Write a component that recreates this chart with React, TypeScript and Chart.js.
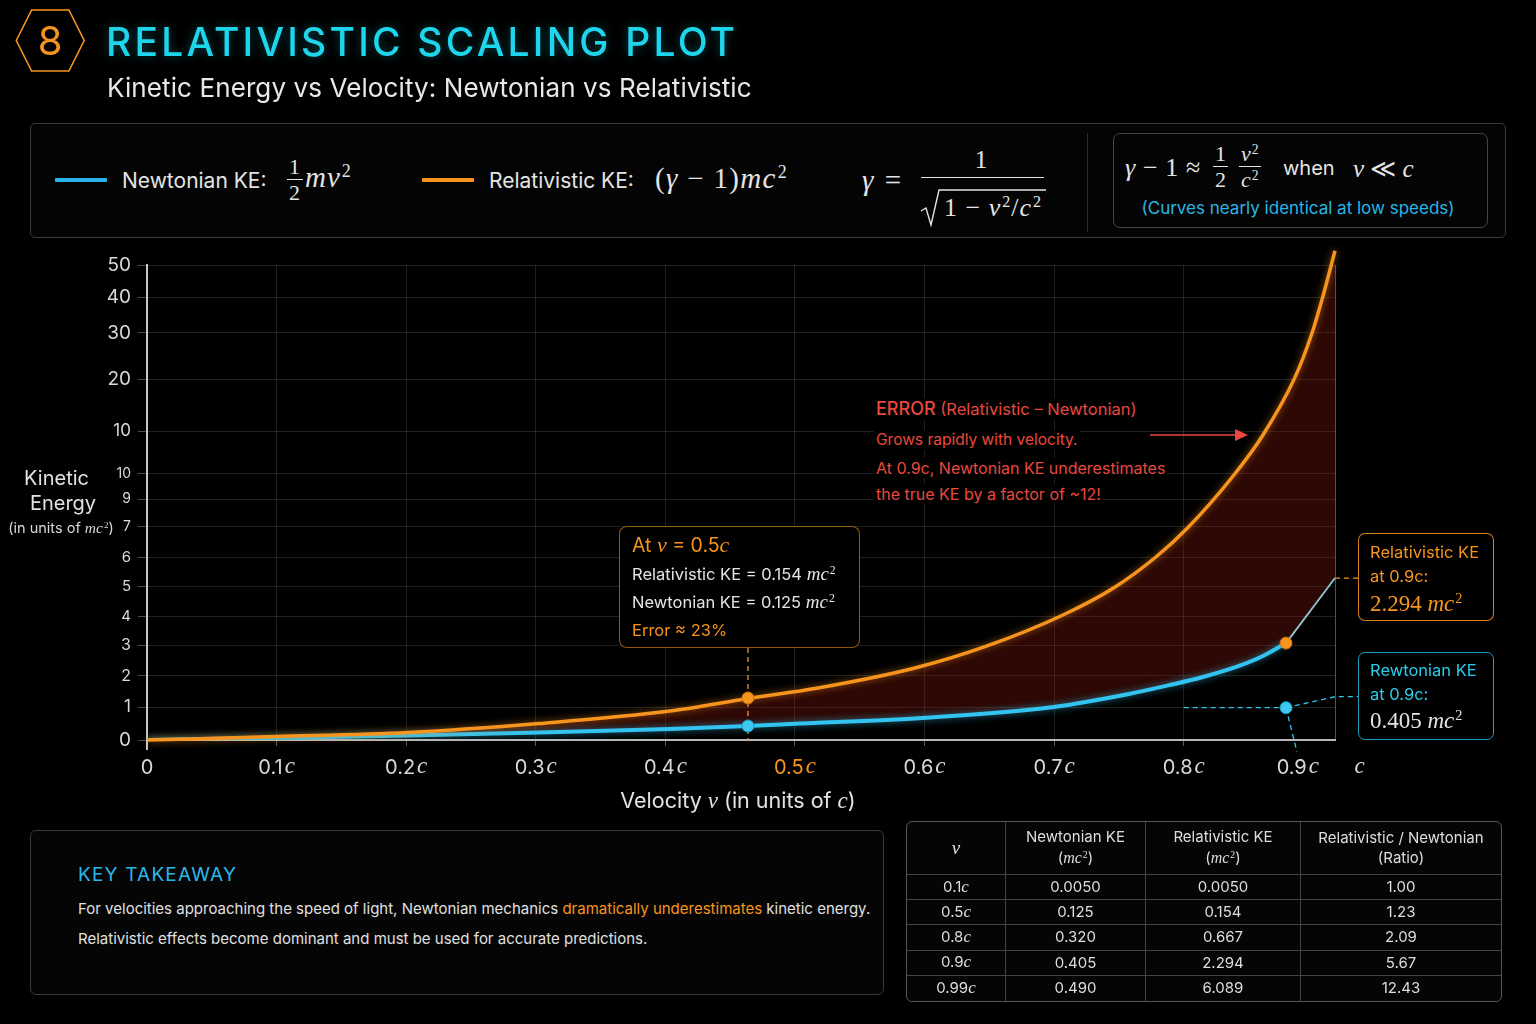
import React, { useEffect, useRef } from 'react';
import { Chart, registerables } from 'chart.js';

Chart.register(...registerables);

// ---------- data ----------
const X_MAX = 0.9167;
const X_TICK_VALUES = [0, 0.1, 0.2, 0.3, 0.4, 0.5, 0.6, 0.7, 0.8, 0.888, 0.9167, 0.9356];
const X_TICK_LABELS = ['0', '0.1c', '0.2c', '0.3c', '0.4c', '0.5c', '0.6c', '0.7c', '0.8c', '0.9c', '', 'c'];
const X_HIGHLIGHT_LABEL = '0.5c';

const Y_MAX = 100;
const Y_TICK_VALUES = [0, 6.9, 13.5, 20.0, 26.1, 32.3, 38.5, 44.9, 50.7, 56.1, 65.05, 75.9, 85.7, 93.2, 100];
const Y_TICK_LABELS = ['0', '1', '2', '3', '4', '5', '6', '7', '9', '10', '10', '20', '30', '40', '50'];

const REL_V = [0, 0.1003, 0.2014, 0.3025, 0.4035, 0.4637, 0.5177, 0.5926, 0.6466, 0.7068, 0.7458, 0.7785, 0.8029, 0.8387, 0.8611, 0.8858, 0.8989, 0.9082, 0.9167];
const REL_KE = [0, 0.72, 1.58, 3.47, 6.1, 8.75, 10.95, 15.16, 19.64, 26.32, 32.0, 38.53, 44.63, 55.79, 64.21, 76.34, 85.64, 94.23, 103.0];

const NEWT_V = [0, 0.1003, 0.2014, 0.3025, 0.4035, 0.4637, 0.5039, 0.6011, 0.6998, 0.7577, 0.7894, 0.8148, 0.841, 0.8611, 0.8789];
const NEWT_KE = [0, 0.42, 0.95, 1.58, 2.32, 2.95, 3.47, 4.69, 6.95, 9.68, 11.58, 13.26, 15.43, 17.68, 20.4];

const TAIL_V = [0.8789, 0.9167];
const TAIL_KE = [20.4, 34.1];

const MARK_V = [0.4637, 0.8789];
const MARK_REL = [8.85, 20.4];
const MARK_NEWT = [2.95, 6.8];

const TABLE_V = ['0.1', '0.5', '0.8', '0.9', '0.99'];
const TABLE_NEWT = ['0.0050', '0.125', '0.320', '0.405', '0.490'];
const TABLE_REL = ['0.0050', '0.154', '0.667', '2.294', '6.089'];
const TABLE_RATIO = ['1.00', '1.23', '2.09', '5.67', '12.43'];

// ---------- style ----------
const SANS = "Inter, 'Noto Sans', 'DejaVu Sans', sans-serif";
const SERIF = "'Liberation Serif', 'DejaVu Serif', serif";
const ORANGE = '#F7941D';
const BLUE = '#33C3F0';
const CYAN = '#1ED6EC';
const RED = '#E8483E';
const TEXT = '#E4E4E4';
const Y_FONT_SIZES = [19, 17, 16, 16, 15, 15, 15, 14, 14, 14, 17, 19, 19, 19, 19];

const pts = (xs: number[], ys: number[]) => xs.map((x, i) => ({ x, y: ys[i] }));

function T({ x, y, children, style, center }: any) {
  return (
    <div
      style={{
        position: 'absolute',
        left: x,
        top: y,
        transform: center ? 'translate(-50%,-50%)' : 'translateY(-50%)',
        whiteSpace: 'nowrap',
        lineHeight: 1,
        ...style,
      }}
    >
      {children}
    </div>
  );
}
const I = ({ children, size }: any) => (
  <span style={{ fontFamily: SERIF, fontStyle: 'italic', fontSize: size }}>{children}</span>
);
const Sup = ({ children }: any) => (
  <span style={{ fontFamily: SERIF, fontStyle: 'normal', fontSize: '0.62em', position: 'relative', top: '-0.55em', marginLeft: 1 }}>
    {children}
  </span>
);
function Frac({ n, d, size }: any) {
  return (
    <span
      style={{
        display: 'inline-flex',
        flexDirection: 'column',
        alignItems: 'center',
        verticalAlign: 'middle',
        fontSize: size,
        lineHeight: 1,
        margin: '0 2px',
        fontFamily: SERIF,
      }}
    >
      <span style={{ padding: '0 2px 1px' }}>{n}</span>
      <span style={{ alignSelf: 'stretch', height: 0, borderTop: '1.2px solid currentColor' }} />
      <span style={{ padding: '2px 2px 0' }}>{d}</span>
    </span>
  );
}
const Mc2 = ({ size }: any) => (
  <span style={{ fontFamily: SERIF, fontSize: size }}>
    <i>mc</i>
    <Sup>2</Sup>
  </span>
);

function ChartCanvas() {
  const ref = useRef<HTMLCanvasElement | null>(null);
  useEffect(() => {
    const canvas = ref.current!;
    const overlay = {
      id: 'overlay',
      beforeDatasetDraw(chart: any, args: any) {
        const ds = chart.data.datasets[args.index];
        if (ds.glow) {
          chart.ctx.save();
          chart.ctx.shadowColor = ds.glow;
          chart.ctx.shadowBlur = 7;
        }
      },
      afterDatasetDraw(chart: any, args: any) {
        const ds = chart.data.datasets[args.index];
        if (ds.glow) chart.ctx.restore();
      },
      beforeDatasetsDraw(chart: any) {
        const ctx = chart.ctx;
        const xs = chart.scales.x;
        const ys = chart.scales.y;
        const px = (v: number) => xs.getPixelForValue(v);
        const py = (v: number) => ys.getPixelForValue(v);
        const line = (p: number[][]) => {
          ctx.beginPath();
          ctx.moveTo(p[0][0], p[0][1]);
          for (let i = 1; i < p.length; i++) ctx.lineTo(p[i][0], p[i][1]);
          ctx.stroke();
        };
        ctx.save();
        ctx.setLineDash([5, 4]);
        ctx.lineWidth = 1.3;
        ctx.strokeStyle = ORANGE;
        line([[px(MARK_V[0]), 648], [px(MARK_V[0]), ys.bottom]]);
        line([[px(TAIL_V[1]), py(TAIL_KE[1])], [1358, py(TAIL_KE[1])]]);
        ctx.strokeStyle = BLUE;
        const bx = px(MARK_V[1]);
        const by = py(MARK_NEWT[1]);
        line([[px(X_TICK_VALUES[8]), by], [bx, by]]);
        line([[bx, by], [xs.right, by - 11], [1358, by - 11]]);
        line([[bx, by], [bx + 11, ys.bottom + 12]]);
        ctx.restore();
      },
      afterDraw(chart: any) {
        const ctx = chart.ctx;
        const xs = chart.scales.x;
        const ys = chart.scales.y;
        ctx.save();
        ctx.strokeStyle = '#c8c8c8';
        ctx.lineWidth = 2;
        ctx.beginPath();
        ctx.moveTo(xs.left, ys.bottom);
        ctx.lineTo(xs.left, ys.bottom + 10);
        ctx.stroke();
        ctx.textBaseline = 'middle';
        X_TICK_LABELS.forEach((lab, i) => {
          if (!lab) return;
          const x = xs.getPixelForValue(X_TICK_VALUES[i]);
          const hasC = lab.endsWith('c');
          const num = hasC ? lab.slice(0, -1) : lab;
          ctx.font = `20px ${SANS}`;
          const w1 = num ? ctx.measureText(num).width : 0;
          ctx.font = `italic 23px ${SERIF}`;
          const w2 = hasC ? ctx.measureText('c').width + (num ? 2 : 0) : 0;
          const start = x - (w1 + w2) / 2;
          ctx.fillStyle = lab === X_HIGHLIGHT_LABEL ? ORANGE : '#d8d8d8';
          ctx.textAlign = 'left';
          if (num) {
            ctx.font = `20px ${SANS}`;
            ctx.fillText(num, start, 768);
          }
          if (hasC) {
            ctx.font = `italic 23px ${SERIF}`;
            ctx.fillText('c', start + w1 + (num ? 2 : 0), 767);
          }
        });
        ctx.strokeStyle = RED;
        ctx.fillStyle = RED;
        ctx.lineWidth = 1.5;
        ctx.beginPath();
        ctx.moveTo(1150, 435);
        ctx.lineTo(1238, 435);
        ctx.stroke();
        ctx.beginPath();
        ctx.moveTo(1248, 435);
        ctx.lineTo(1235, 429);
        ctx.lineTo(1235, 441);
        ctx.closePath();
        ctx.fill();
        ctx.restore();
      },
    };

    const chart = new Chart(canvas, {
      type: 'line',
      data: {
        datasets: [
          {
            label: 'Relativistic KE',
            data: pts(REL_V, REL_KE),
            borderColor: ORANGE,
            borderWidth: 3.5,
            pointRadius: 0,
            cubicInterpolationMode: 'monotone',
            fill: 2,
            backgroundColor: 'rgba(150,26,12,0.30)',
            clip: { left: 10, top: 20, right: 10, bottom: 10 },
            order: 1,
            glow: 'rgba(247,148,29,0.6)',
          } as any,
          {
            label: 'Newtonian KE',
            data: pts(NEWT_V, NEWT_KE),
            borderColor: BLUE,
            borderWidth: 4,
            pointRadius: 0,
            cubicInterpolationMode: 'monotone',
            fill: false,
            order: 2,
            glow: 'rgba(51,195,240,0.6)',
          } as any,
          {
            label: 'fill boundary',
            data: [...pts(NEWT_V, NEWT_KE), { x: TAIL_V[1], y: TAIL_KE[1] }],
            borderColor: 'transparent',
            borderWidth: 0,
            pointRadius: 0,
            cubicInterpolationMode: 'monotone',
            fill: false,
            order: 5,
          },
          {
            label: 'tail',
            data: pts(TAIL_V, TAIL_KE),
            borderColor: '#8fc3d3',
            borderWidth: 1.8,
            pointRadius: 0,
            fill: false,
            order: 3,
          },
          {
            label: 'rel markers',
            data: pts(MARK_V, MARK_REL),
            showLine: false,
            pointRadius: 6,
            pointBackgroundColor: ORANGE,
            pointBorderColor: '#c8700f',
            pointBorderWidth: 1,
            order: 0,
          },
          {
            label: 'newt markers',
            data: pts(MARK_V, MARK_NEWT),
            showLine: false,
            pointRadius: 6,
            pointBackgroundColor: '#3cc8f2',
            pointBorderColor: '#1d9cc4',
            pointBorderWidth: 1,
            order: 0,
          },
        ],
      },
      options: {
        responsive: false,
        animation: false,
        devicePixelRatio: 1,
        events: [],
        layout: { padding: { left: 0, top: 265, right: 201, bottom: 264 } },
        plugins: {
          legend: { display: false },
          tooltip: { enabled: false },
          filler: { drawTime: 'beforeDatasetsDraw' },
        } as any,
        scales: {
          x: {
            type: 'linear',
            min: 0,
            max: X_MAX,
            afterBuildTicks: (s: any) => {
              s.ticks = X_TICK_VALUES.map((v) => ({ value: v }));
            },
            afterFit: (s: any) => {
              s.height = 20;
            },
            ticks: { display: false, autoSkip: false },
            grid: {
              color: (c: any) => {
                const v = c.tick ? c.tick.value : 0;
                if (v === X_MAX) return 'rgba(255,255,255,0.32)';
                return v <= 0.8001 ? 'rgba(255,255,255,0.12)' : 'rgba(0,0,0,0)';
              },
              tickColor: (c: any) => {
                const v = c.tick ? c.tick.value : 0;
                return v <= 0.8001 ? 'rgba(255,255,255,0.35)' : 'rgba(0,0,0,0)';
              },
              tickLength: 6,
            },
            border: { color: '#b8b8b8', width: 2 },
          },
          y: {
            type: 'linear',
            min: 0,
            max: Y_MAX,
            afterBuildTicks: (s: any) => {
              s.ticks = Y_TICK_VALUES.map((v) => ({ value: v }));
            },
            afterFit: (s: any) => {
              s.width = 147;
            },
            ticks: {
              autoSkip: false,
              padding: 7,
              color: '#d9d9d9',
              callback: (_v: any, i: number) => Y_TICK_LABELS[i],
              font: (c: any) => ({ family: SANS, size: Y_FONT_SIZES[c.index] || 16 }),
            },
            grid: { color: 'rgba(255,255,255,0.12)', tickLength: 9, tickColor: 'rgba(255,255,255,0.3)' },
            border: { color: '#c8c8c8', width: 2 },
          },
        },
      },
      plugins: [overlay],
    } as any);
    return () => chart.destroy();
  }, []);
  return (
    <canvas
      ref={ref}
      width={1536}
      height={1024}
      style={{ position: 'absolute', left: 0, top: 0, width: 1536, height: 1024 }}
    />
  );
}

const box = (x: number, y: number, w: number, h: number, border: string, radius: number, extra: any = {}) => ({
  position: 'absolute' as const,
  left: x,
  top: y,
  width: w,
  height: h,
  border,
  borderRadius: radius,
  boxSizing: 'border-box' as const,
  ...extra,
});

export default function App() {
  useEffect(() => {
    document.body.style.margin = '0';
    document.body.style.background = '#000';
  }, []);
  const cell = (last: boolean, lastRow: boolean) => ({
    display: 'flex',
    flexDirection: 'column' as const,
    alignItems: 'center',
    justifyContent: 'center',
    borderRight: last ? 'none' : '1px solid #444',
    borderBottom: lastRow ? 'none' : '1px solid #444',
    fontSize: 15,
    color: '#dedede',
    lineHeight: 1.35,
  });
  const redLine = { color: RED, fontSize: 15.5, background: '#000', padding: '2px 2px' };
  return (
    <div
      style={{
        position: 'fixed',
        left: 0,
        top: 0,
        width: 1536,
        height: 1024,
        background: '#000',
        overflow: 'hidden',
        fontFamily: SANS,
        color: TEXT,
      }}
    >
      <ChartCanvas />

      {/* header */}
      <svg style={{ position: 'absolute', left: 0, top: 0 }} width={100} height={82}>
        <polygon points="16.3,40.5 31.6,10 68.9,10 84.2,40.5 68.9,71 31.6,71" fill="none" stroke={ORANGE} strokeWidth={1.6} />
      </svg>
      <T x={50} y={41} center style={{ color: ORANGE, fontSize: 40 }}>8</T>
      <T
        x={106}
        y={41}
        style={{ color: CYAN, fontSize: 39, fontWeight: 500, letterSpacing: 3.2, textShadow: '0 0 10px rgba(30,214,236,0.35)' }}
      >
        RELATIVISTIC SCALING PLOT
      </T>
      <T x={107} y={88} style={{ fontSize: 26, fontWeight: 400, color: '#e8e8e8', letterSpacing: 0.1 }}>
        Kinetic Energy vs Velocity: Newtonian vs Relativistic
      </T>

      {/* legend box */}
      <div style={box(30, 123, 1476, 115, '1px solid #3a3a3a', 5, { background: '#040404' })} />
      <div style={{ position: 'absolute', left: 55, top: 178, width: 52, height: 4, background: '#29B5E8', borderRadius: 1 }} />
      <T x={122} y={180} style={{ fontSize: 21 }}>Newtonian KE:</T>
      <T x={285} y={180} style={{ fontFamily: SERIF, fontSize: 29, letterSpacing: 1 }}>
        <Frac n="1" d="2" size={22} />
        <i>mv</i>
        <Sup>2</Sup>
      </T>
      <div style={{ position: 'absolute', left: 422, top: 178, width: 52, height: 4, background: ORANGE, borderRadius: 1 }} />
      <T x={489} y={180} style={{ fontSize: 21 }}>Relativistic KE:</T>
      <T x={655} y={178} style={{ fontFamily: SERIF, fontSize: 29, letterSpacing: 1.3 }}>
        (<i>γ</i> − 1)<i>mc</i>
        <Sup>2</Sup>
      </T>
      <T x={862} y={180} style={{ fontFamily: SERIF, fontSize: 29, letterSpacing: 2 }}>
        <i>γ</i> =
      </T>
      <T x={981} y={159} center style={{ fontFamily: SERIF, fontSize: 25 }}>1</T>
      <div style={{ position: 'absolute', left: 921, top: 177, width: 123, height: 1.4, background: TEXT }} />
      <svg style={{ position: 'absolute', left: 918, top: 186 }} width={130} height={44}>
        <polyline points="3,25 8,22 13,39 21,4 128,4" fill="none" stroke={TEXT} strokeWidth={1.4} />
      </svg>
      <T x={944} y={208} style={{ fontFamily: SERIF, fontSize: 26, letterSpacing: 1 }}>
        1 − <i>v</i>
        <Sup>2</Sup>/<i>c</i>
        <Sup>2</Sup>
      </T>
      <div style={{ position: 'absolute', left: 1087, top: 133, width: 1, height: 99, background: '#2a2a2a' }} />
      <div style={box(1113, 133, 375, 95, '1px solid #444', 7)} />
      <T x={1125} y={168} style={{ fontFamily: SERIF, fontSize: 26, letterSpacing: 0.6 }}>
        <i>γ</i> − 1 ≈
      </T>
      <T x={1211} y={167} style={{ fontFamily: SERIF, fontSize: 22 }}>
        <Frac n="1" d="2" size={22} />
      </T>
      <T x={1237} y={167} style={{ fontFamily: SERIF, fontSize: 22 }}>
        <Frac
          n={
            <span>
              <i>v</i>
              <Sup>2</Sup>
            </span>
          }
          d={
            <span>
              <i>c</i>
              <Sup>2</Sup>
            </span>
          }
          size={22}
        />
      </T>
      <T x={1283} y={168} style={{ fontSize: 20 }}>when</T>
      <T x={1353} y={168} style={{ fontFamily: SERIF, fontSize: 25 }}>
        <i>v</i> ≪ <i>c</i>
      </T>
      <T x={1298} y={208} center style={{ fontSize: 17, color: '#29B6E6' }}>
        (Curves nearly identical at low speeds)
      </T>

      {/* y axis title */}
      <T x={56.5} y={478} center style={{ fontSize: 20, color: '#e2e2e2' }}>Kinetic</T>
      <T x={63} y={503} center style={{ fontSize: 20, color: '#e2e2e2' }}>Energy</T>
      <T x={61} y={528} center style={{ fontSize: 14.5, color: '#d8d8d8' }}>
        (in units of <I size={15.5}>mc</I>
        <Sup>2</Sup>)
      </T>

      {/* x axis title */}
      <T x={738} y={800} center style={{ fontSize: 21.5, color: '#e2e2e2' }}>
        Velocity <I size={23}>v</I> (in units of <I size={23}>c</I>)
      </T>

      {/* 0.5c annotation */}
      <div style={box(619, 526, 241, 122, '1.5px solid rgba(247,148,29,0.6)', 8, { background: '#000' })} />
      <T x={632} y={545} style={{ fontSize: 19.5, color: ORANGE }}>
        At <I size={22}>v</I> = 0.5<I size={22}>c</I>
      </T>
      <T x={632} y={573} style={{ fontSize: 16.5 }}>
        Relativistic KE = 0.154 <Mc2 size={19} />
      </T>
      <T x={632} y={601} style={{ fontSize: 16.5 }}>
        Newtonian KE = 0.125 <Mc2 size={19} />
      </T>
      <T x={632} y={630} style={{ fontSize: 16.5, color: ORANGE }}>Error ≈ 23%</T>

      {/* error text */}
      <T x={874} y={409} style={{ color: RED, background: '#000', padding: '2px 2px' }}>
        <span style={{ fontSize: 18, fontWeight: 500 }}>ERROR</span>
        <span style={{ fontSize: 16.5 }}> (Relativistic – Newtonian)</span>
      </T>
      <T x={874} y={440} style={redLine}>Grows rapidly with velocity.</T>
      <T x={874} y={468} style={{ ...redLine, fontSize: 16 }}>At 0.9c, Newtonian KE underestimates</T>
      <T x={874} y={494} style={{ ...redLine, fontSize: 16 }}>the true KE by a factor of ~12!</T>

      {/* right boxes */}
      <div style={box(1358, 533, 136, 88, '1.5px solid rgba(247,148,29,0.85)', 7, { background: '#000' })} />
      <T x={1370} y={552} style={{ fontSize: 16.5, color: ORANGE }}>Relativistic KE</T>
      <T x={1370} y={576} style={{ fontSize: 16.5, color: ORANGE }}>at 0.9c:</T>
      <T x={1370} y={603} style={{ fontFamily: SERIF, fontSize: 23, color: ORANGE }}>
        2.294 <i>mc</i>
        <Sup>2</Sup>
      </T>
      <div style={box(1358, 652, 136, 88, '1.5px solid #1A9FBA', 7, { background: '#000' })} />
      <T x={1370} y={670} style={{ fontSize: 16.5, color: '#2ACBEB' }}>Rewtonian KE</T>
      <T x={1370} y={694} style={{ fontSize: 16.5, color: '#2ACBEB' }}>at 0.9c:</T>
      <T x={1370} y={720} style={{ fontFamily: SERIF, fontSize: 23, color: '#e4e4e4' }}>
        0.405 <i>mc</i>
        <Sup>2</Sup>
      </T>

      {/* key takeaway */}
      <div style={box(30, 830, 854, 165, '1px solid #3a3a3a', 6, { background: '#050505' })} />
      <T x={78} y={874} style={{ fontSize: 19, color: '#29B8E8', letterSpacing: 1.2 }}>KEY TAKEAWAY</T>
      <T x={78} y={908} style={{ fontSize: 15, color: '#e0e0e0' }}>
        For velocities approaching the speed of light, Newtonian mechanics{' '}
        <span style={{ color: ORANGE }}>dramatically underestimates</span> kinetic energy.
      </T>
      <T x={78} y={938} style={{ fontSize: 15, color: '#e0e0e0' }}>
        Relativistic effects become dominant and must be used for accurate predictions.
      </T>

      {/* table */}
      <div
        style={{
          ...box(906, 821, 596, 181, '1px solid #555', 6, { background: '#050505' }),
          overflow: 'hidden',
          display: 'grid',
          gridTemplateColumns: '99px 140px 155px 1fr',
          gridTemplateRows: '53px repeat(5, 1fr)',
        }}
      >
        <div style={cell(false, false)}>
          <I size={19}>v</I>
        </div>
        <div style={cell(false, false)}>
          <span>Newtonian KE</span>
          <span>
            (<Mc2 size={16} />)
          </span>
        </div>
        <div style={cell(false, false)}>
          <span>Relativistic KE</span>
          <span>
            (<Mc2 size={16} />)
          </span>
        </div>
        <div style={cell(true, false)}>
          <span>Relativistic / Newtonian</span>
          <span>(Ratio)</span>
        </div>
        {TABLE_V.map((v, r) => {
          const lastRow = r === TABLE_V.length - 1;
          return (
            <React.Fragment key={v}>
              <div style={cell(false, lastRow)}>
                <span>
                  {v}
                  <I size={17}>c</I>
                </span>
              </div>
              <div style={cell(false, lastRow)}>{TABLE_NEWT[r]}</div>
              <div style={cell(false, lastRow)}>{TABLE_REL[r]}</div>
              <div style={cell(true, lastRow)}>{TABLE_RATIO[r]}</div>
            </React.Fragment>
          );
        })}
      </div>
    </div>
  );
}
